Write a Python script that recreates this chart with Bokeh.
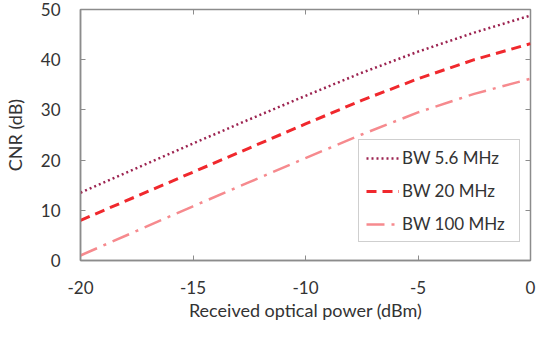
from bokeh.plotting import figure
from bokeh.models import LinearAxis, Legend, LegendItem, FixedTicker, Range1d
from bokeh.embed import file_html
from bokeh.resources import INLINE

# Received optical power (dBm)
power_dbm = [-20, -17.5, -15, -12.5, -10, -7.5, -5, -2.5, 0]
# CNR (dB) for three signal bandwidths
cnr_bw_5_6 = [13.5, 18.4, 23.3, 28.1, 32.8, 37.4, 41.6, 45.4, 48.8]
cnr_bw_20 = [8.0, 12.8, 17.6, 22.4, 27.2, 31.9, 36.2, 40.0, 43.2]
cnr_bw_100 = [1.0, 5.9, 10.8, 15.6, 20.4, 25.1, 29.5, 33.2, 36.2]

series_labels = ["BW 5.6 MHz", "BW 20 MHz", "BW 100 MHz"]
x_ticks = [-20, -15, -10, -5, 0]
y_ticks = [0, 10, 20, 30, 40, 50]

FONT = "Lato"
AXIS_GRAY = "#8c8c8c"
TEXT = "#333333"

p = figure(width=538, height=338, output_backend="svg", toolbar_location=None,
           x_range=Range1d(-20, 0), y_range=Range1d(0, 50),
           min_border_left=77, min_border_right=8, min_border_top=9, min_border_bottom=78,
           x_axis_label="Received optical power (dBm)", y_axis_label="CNR (dB)")
p.grid.visible = False
p.outline_line_color = AXIS_GRAY
p.outline_line_width = 1.5

for ax, ticks in ((p.xaxis[0], x_ticks), (p.yaxis[0], y_ticks)):
    ax.ticker = FixedTicker(ticks=ticks)
    ax.major_label_overrides = {t: str(t) for t in ticks}  # plain hyphen minus
    ax.axis_line_color = AXIS_GRAY
    ax.axis_line_width = 1.5
    ax.major_tick_line_color = AXIS_GRAY
    ax.major_tick_in = 5
    ax.major_tick_out = 0
    ax.minor_tick_line_color = None
    ax.major_label_text_font = FONT
    ax.major_label_text_font_size = "17px"
    ax.major_label_text_color = TEXT
    ax.axis_label_text_font = FONT
    ax.axis_label_text_font_size = "18px"
    ax.axis_label_text_font_style = "normal"
    ax.axis_label_text_color = TEXT

p.xaxis[0].major_label_standoff = 20
p.xaxis[0].axis_label_standoff = 2
p.yaxis[0].major_label_standoff = 20
p.yaxis[0].axis_label_standoff = 12

# mirrored inner ticks on the top and right edges (no labels)
mirror = dict(axis_line_color=None, major_tick_line_color=AXIS_GRAY,
              major_tick_in=5, major_tick_out=0, minor_tick_line_color=None)
top = LinearAxis(ticker=FixedTicker(ticks=x_ticks), **mirror)
top.major_label_overrides = {t: "" for t in x_ticks}
right = LinearAxis(ticker=FixedTicker(ticks=y_ticks), **mirror)
right.major_label_overrides = {t: "" for t in y_ticks}
p.add_layout(top, "above")
p.add_layout(right, "right")

r1 = p.line(power_dbm, cnr_bw_5_6, line_color="#9c2350", line_width=2.5, line_dash="2 3")
r2 = p.line(power_dbm, cnr_bw_20, line_color="#f0282d", line_width=3, line_dash="10 6")
r3 = p.line(power_dbm, cnr_bw_100, line_color="#f68a8e", line_width=2.5, line_dash="18 7 3 7")

legend = Legend(items=[LegendItem(label=series_labels[0], renderers=[r1]),
                       LegendItem(label=series_labels[1], renderers=[r2]),
                       LegendItem(label=series_labels[2], renderers=[r3])],
                location=(278, 18), label_text_font=FONT, label_text_font_size="17px",
                label_text_color=TEXT, glyph_width=33, glyph_height=20, label_height=20,
                label_width=110, spacing=12, padding=7, margin=0, label_standoff=3,
                border_line_color="#a0a0a0", border_line_width=1.2,
                background_fill_alpha=1)
p.add_layout(legend, "center")

open("out.html", "w").write(file_html(p, INLINE))
